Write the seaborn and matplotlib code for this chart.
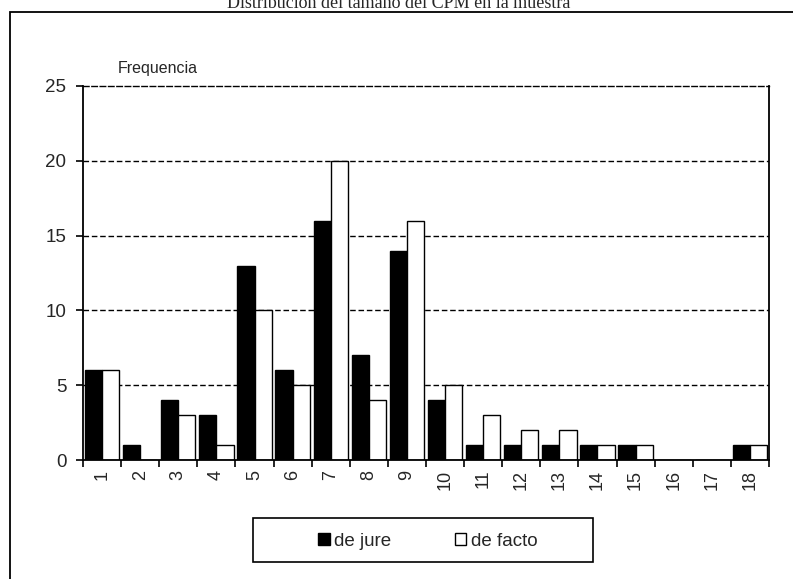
import numpy as np
import pandas as pd
import matplotlib
matplotlib.use("Agg")
import matplotlib.pyplot as plt
import seaborn as sns
from matplotlib.patches import Rectangle, Patch

# data
sizes = [str(i) for i in range(1, 19)]
de_jure = [6, 1, 4, 3, 13, 6, 16, 7, 14, 4, 1, 1, 1, 1, 1, 0, 0, 1]
de_facto = [6, 0, 3, 1, 10, 5, 20, 4, 16, 5, 3, 2, 2, 1, 1, 0, 0, 1]
series = ["de jure", "de facto"]
title = "Distribución del tamaño del CPM en la muestra"

df = pd.DataFrame({"tam": sizes * 2,
                   "freq": de_jure + de_facto,
                   "serie": [series[0]] * len(sizes) + [series[1]] * len(sizes)})

sns.set_style("white")
plt.rcParams["font.family"] = ["Liberation Sans", "DejaVu Sans"]

fig = plt.figure(figsize=(7.93, 5.79), dpi=100)
ax = fig.add_axes([0.1047, 0.2055, 0.8650, 0.6460])

sns.barplot(data=df, x="tam", y="freq", hue="serie", order=sizes,
            palette={"de jure": "black", "de facto": "white"},
            edgecolor="black", linewidth=1.0, width=0.9, ax=ax, legend=False)

ax.set_xlim(-0.5, len(sizes) - 0.5)
ax.set_ylim(0, 25)
ax.set_yticks(np.arange(0, 26, 5))
ax.set_xlabel("")
ax.set_ylabel("")
for y in [5, 10, 15, 20]:
    ax.axhline(y, color="black", lw=1.0, ls=(0, (4, 2)), zorder=0)

ax.tick_params(axis="x", which="major", length=0, labelsize=13, rotation=90, pad=7)
ax.set_xticks(np.arange(-0.5, len(sizes), 1), minor=True)
ax.tick_params(axis="x", which="minor", length=5, width=1.2, direction="out", color="black", bottom=True)
ax.tick_params(axis="y", length=5, width=1.2, direction="out", color="black", labelsize=13.5, left=True, pad=7)

for s in ["left", "bottom", "right"]:
    ax.spines[s].set_color("black")
    ax.spines[s].set_linewidth(1.3)
ax.spines["top"].set_color("black")
ax.spines["top"].set_linewidth(1.0)
ax.spines["top"].set_linestyle((0, (4, 2)))

fig.text(118 / 793, 1 - 68 / 579, "Frequencia", fontsize=11.5, va="center", ha="left")

# legend: frame drawn separately so it can be wide like the original
handles = [Patch(facecolor="black", edgecolor="black", label=series[0]),
           Patch(facecolor="white", edgecolor="black", label=series[1])]
leg = fig.legend(handles=handles, loc="center", ncol=2,
                 bbox_to_anchor=(428 / 793, 1 - 541 / 579), fontsize=13.5,
                 frameon=False, handlelength=0.6, handleheight=0.6,
                 handletextpad=0.25, columnspacing=3.4, borderaxespad=0)
fig.patches.append(Rectangle((253 / 793, 1 - 562 / 579), 340 / 793, 44 / 579,
                             transform=fig.transFigure, fill=False,
                             edgecolor="black", lw=1.2))

# outer chart frame
fig.patches.append(Rectangle((10 / 793, -0.1), 1.2, 1 - 12 / 579 + 0.1,
                             transform=fig.transFigure, fill=False,
                             edgecolor="black", lw=1.3, zorder=0))
fig.text(399 / 793, 1 - 3 / 579, title, family=["Liberation Serif"], fontsize=13,
         ha="center", va="center")

fig.savefig("out.png", dpi=100)
